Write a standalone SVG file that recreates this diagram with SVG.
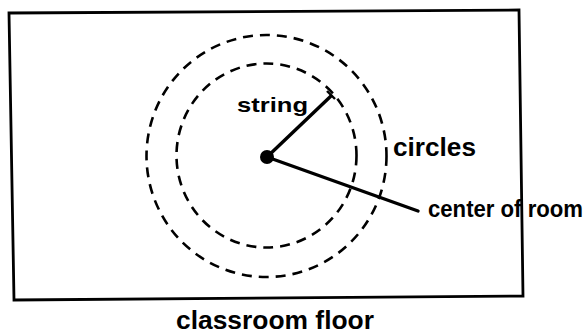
<svg xmlns="http://www.w3.org/2000/svg" width="585" height="334" viewBox="0 0 585 334">
<style>
.dash{fill:none;stroke:#000;stroke-width:2.6;stroke-dasharray:10 7}
.ln{stroke:#000;stroke-width:3.4;stroke-linecap:round;fill:none}
.t{font-family:"Liberation Sans",Arial,sans-serif;fill:#000;font-weight:bold}
</style>
<rect width="585" height="334" fill="#fff"/>
<g id="floor">
<polygon points="9,13 519,10 523,296 14,300" fill="none" stroke="#000" stroke-width="2.8"/>
<text class="t" x="176" y="329" font-size="25" textLength="198" lengthAdjust="spacingAndGlyphs">classroom floor</text>
</g>
<g id="circles">
<ellipse class="dash" cx="266.5" cy="156" rx="120" ry="121"/>
<ellipse class="dash" cx="266.5" cy="155.5" rx="90" ry="92"/>
<text class="t" x="393" y="156" font-size="25" textLength="83" lengthAdjust="spacingAndGlyphs">circles</text>
</g>
<g id="center">
<circle cx="267" cy="157" r="7" fill="#000"/>
<text class="t" x="428" y="217" font-size="23" textLength="155" lengthAdjust="spacingAndGlyphs">center of room</text>
</g>
<g id="connectors">
<line class="ln" x1="267" y1="157" x2="331" y2="96"/>
<line x1="327" y1="91" x2="335" y2="99" stroke="#000" stroke-width="2.4"/>
<line class="ln" x1="267" y1="157" x2="418" y2="211"/>
</g>
<g id="string">
<text class="t" x="237" y="112" font-size="21" textLength="71" lengthAdjust="spacingAndGlyphs">string</text>
</g>
</svg>
